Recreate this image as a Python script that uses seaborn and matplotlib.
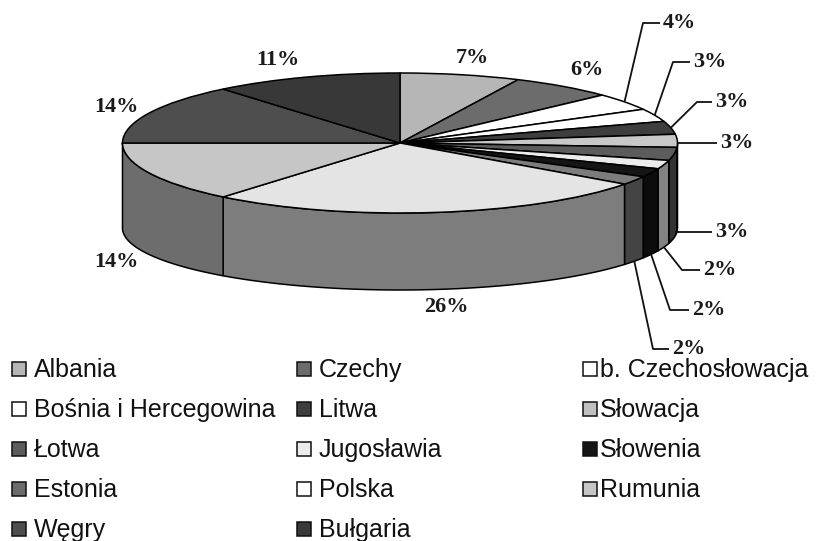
import numpy as np
import matplotlib
matplotlib.use("Agg")
import matplotlib.pyplot as plt
import seaborn as sns
from matplotlib.patches import Rectangle

# ---------------- data ----------------
countries = ["Albania", "Czechy", "b. Czechosłowacja", "Bośnia i Hercegowina",
             "Litwa", "Słowacja", "Łotwa", "Jugosławia", "Słowenia", "Estonia",
             "Polska", "Rumunia", "Węgry", "Bułgaria"]
shares = [7, 6, 4, 3, 3, 3, 3, 2, 2, 2, 26, 14, 14, 11]
pct_labels = [f"{v}%" for v in shares]

# ---------------- style ----------------
top_colors = ["#b6b6b6", "#6c6c6c", "#ffffff", "#ffffff", "#3e3e3e", "#c8c8c8",
              "#5c5c5c", "#ececec", "#151515", "#7c7c7c", "#e4e4e4", "#c6c6c6",
              "#4e4e4e", "#383838"]
legend_colors = ["#b6b6b6", "#6c6c6c", "#ffffff", "#ffffff", "#3e3e3e", "#c0c0c0",
                 "#5c5c5c", "#ececec", "#151515", "#6c6c6c", "#ffffff", "#c6c6c6",
                 "#4e4e4e", "#3a3a3a"]
SIDE_SHADE = 0.55

W, H = 817, 541
CX, CY, RX, RY = 400, 143, 277.5, 70      # top ellipse (pixels)
CYB, RYB = 228, 62                        # bottom ellipse (pixels)

sns.set_theme(style="white")
plt.rcParams["font.family"] = ["Liberation Sans", "DejaVu Sans"]

fig = plt.figure(figsize=(W / 100, H / 100), dpi=100, facecolor="white")
ax = fig.add_axes([0, 0, 1, 1])

wedges, _ = ax.pie(shares, colors=top_colors, startangle=90, counterclock=False,
                   radius=1, wedgeprops=dict(edgecolor="black", linewidth=1.1))
for w in wedges:
    w.set_zorder(3)
ax.set_aspect("auto")
ax.set_xlim(-CX / RX, (W - CX) / RX)
ax.set_ylim((CY - H) / RY, CY / RY)
ax.set_axis_off()


def side_color(c):
    rgb = np.array(matplotlib.colors.to_rgb(c))
    return tuple(rgb * SIDE_SHADE)


# side walls (front half of the disc)
for w, col in zip(wedges, top_colors):
    t1, t2 = w.theta1, w.theta2
    for k in range(-2, 3):
        lo = max(t1, 180 + 360 * k)
        hi = min(t2, 360 + 360 * k)
        if hi > lo:
            ts = np.radians(np.linspace(lo, hi, 80))
            xt, yt = np.cos(ts), np.sin(ts)
            yb = (CY - CYB) / RY + (RYB / RY) * np.sin(ts)
            xs = np.concatenate([xt, xt[::-1]])
            ys = np.concatenate([yt, yb[::-1]])
            ax.fill(xs, ys, facecolor=side_color(col), edgecolor="black",
                    linewidth=1.1, zorder=2)

# ---------------- annotation layer (pixel coords) ----------------
ov = fig.add_axes([0, 0, 1, 1], zorder=5)
ov.set_xlim(0, W)
ov.set_ylim(H, 0)
ov.set_axis_off()
ov.patch.set_alpha(0)

lab_font = dict(family=["Liberation Serif", "DejaVu Serif"], fontsize=16,
                fontweight="bold", color="#1a1a1a")

# mid angles of slices (degrees, math convention)
mids = [(w.theta1 + w.theta2) / 2 for w in wedges]


def top_edge(a):
    r = np.radians(a)
    return CX + RX * np.cos(r), CY - RY * np.sin(r)


def bottom_edge(a):
    r = np.radians(a)
    return CX + RX * np.cos(r), CYB - RYB * np.sin(r)


# labels placed directly beside big slices (index -> centre position)
direct = {0: (472, 58), 1: (587, 70), 10: (446, 307), 11: (116, 262),
          12: (116, 107), 13: (278, 60)}
for i, (x, y) in direct.items():
    ov.text(x, y, pct_labels[i], ha="center", va="center", **lab_font)

# labels with leader lines: index -> (elbow, text-left x, text y, anchor kind)
leaders = {
    2: ((643, 23), 663, 23, "top"),
    3: ((673, 62), 693, 62, "top"),
    4: ((697, 102), 715, 102, "top"),
    5: (None, 720, 143, "top"),
    6: (None, 715, 232, "side"),
    7: ((682, 270), 703, 270, "bottom"),
    8: ((670, 310), 692, 310, "bottom"),
    9: ((653, 349), 672, 349, "bottom"),
}
for i, (elbow, tx, ty, kind) in leaders.items():
    if kind == "top":
        ax0, ay0 = top_edge(mids[i])
    elif kind == "bottom":
        ax0, ay0 = bottom_edge(mids[i])
    else:
        ax0, _ = bottom_edge(mids[i])
        ay0 = ty
    if elbow is None:
        xs, ys = [ax0 + 1, tx - 3], [ty, ty]
    else:
        xs = [ax0, elbow[0], tx - 3]
        ys = [ay0, elbow[1], ty]
    ov.plot(xs, ys, color="#111111", linewidth=1.3, solid_capstyle="butt")
    ov.text(tx, ty, pct_labels[i], ha="left", va="center", **lab_font)

# ---------------- legend (row-major, 3 columns) ----------------
col_marker_x = [12, 297, 583]
col_text_x = [34, 319, 600]
row_y = [369, 409, 449, 489, 529]
for i, (name, col) in enumerate(zip(countries, legend_colors)):
    r, c = divmod(i, 3)
    ov.add_patch(Rectangle((col_marker_x[c], row_y[r] - 7), 14, 14,
                           facecolor=col, edgecolor="#111111", linewidth=1.1))
    ov.text(col_text_x[c], row_y[r] + 8, name, ha="left", va="baseline",
            fontsize=18, color="#111111", family=["Liberation Sans", "DejaVu Sans"])

fig.savefig("out.png", dpi=100, facecolor="white")
